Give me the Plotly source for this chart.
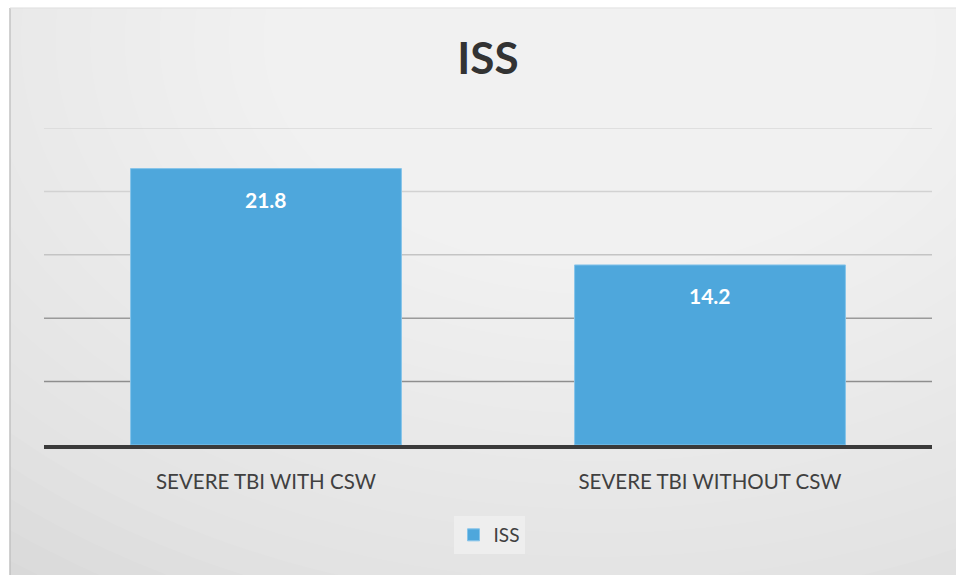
import plotly.graph_objects as go

categories = ["SEVERE TBI WITH CSW", "SEVERE TBI WITHOUT CSW"]
iss_values = [21.8, 14.2]
value_labels = ["21.8", "14.2"]
grid_values = [5, 10, 15, 20, 25]
grid_colors = ["#8e8e8e", "#9a9a9a", "#c4c4c4", "#d2d2d2", "#d8d8d8"]

W, H = 956, 575
L, R, T, B = 44, 24, 128, 130
pw, ph = W - L - R, H - T - B

def px_x(px):
    return (px - L) / pw

def px_y(py):
    return (H - B - py) / ph

fig = go.Figure()
fig.add_trace(go.Bar(
    x=categories, y=iss_values, name="ISS",
    marker=dict(color="#4ea7dc", line=dict(color="#86c4ea", width=1)),
    width=0.61,
))

for c, v, t in zip(categories, iss_values, value_labels):
    fig.add_annotation(x=c, y=v, text=f"<b>{t}</b>", showarrow=False,
                       yanchor="middle", yshift=-31,
                       font=dict(family="Lato", size=21, color="white"))

shapes = []
# background panel
shapes.append(dict(type="rect", xref="paper", yref="paper", layer="below",
                   x0=px_x(10), x1=px_x(960), y0=px_y(580), y1=px_y(8),
                   fillcolor="#d9d9d9", line=dict(color="#c8c8c8", width=1)))
# soft radial highlight
cx, cy = 600, 40
n = 26
for i in range(n):
    f = 1 - i / n
    rx, ry = 60 + 900 * f, 40 + 620 * f
    shapes.append(dict(type="circle", xref="paper", yref="paper", layer="below",
                       x0=px_x(cx - rx), x1=px_x(cx + rx),
                       y0=px_y(cy + ry), y1=px_y(cy - ry),
                       fillcolor="white", opacity=0.065, line=dict(width=0)))
# restore white margin outside panel
shapes.append(dict(type="rect", xref="paper", yref="paper", layer="below",
                   x0=px_x(-5), x1=px_x(9.5), y0=px_y(580), y1=px_y(-5),
                   fillcolor="white", line=dict(width=0)))
shapes.append(dict(type="rect", xref="paper", yref="paper", layer="below",
                   x0=px_x(-5), x1=px_x(960), y0=px_y(7.5), y1=px_y(-5),
                   fillcolor="white", line=dict(width=0)))
shapes.append(dict(type="line", xref="paper", yref="paper", layer="below",
                   x0=px_x(10), x1=px_x(10), y0=px_y(8), y1=px_y(580),
                   line=dict(color="#c4c4c4", width=1.5)))
shapes.append(dict(type="line", xref="paper", yref="paper", layer="below",
                   x0=px_x(10), x1=px_x(960), y0=px_y(8), y1=px_y(8),
                   line=dict(color="#e4e4e4", width=1)))
for gv, gc in zip(grid_values, grid_colors):
    shapes.append(dict(type="line", xref="paper", yref="y", layer="below",
                       x0=0, x1=1, y0=gv, y1=gv, line=dict(color=gc, width=1.5)))

fig.update_layout(
    width=W, height=H,
    margin=dict(l=L, r=R, t=T, b=B, pad=0),
    paper_bgcolor="white", plot_bgcolor="rgba(0,0,0,0)",
    shapes=shapes,
    title=dict(text="<b>ISS</b>", x=488 / W, xref="container", xanchor="center",
               y=1 - 59 / H, yref="container", yanchor="middle",
               font=dict(family="Lato", size=44, color="#333333")),
    xaxis=dict(showline=True, linecolor="#3a3a3a", linewidth=4, showgrid=False,
               ticks="", tickfont=dict(family="Lato", size=20.5, color="#404040"),
               ticklabelstandoff=15),
    yaxis=dict(range=[0, 25], showgrid=False, showticklabels=False, zeroline=False,
               showline=False),
    showlegend=True,
    legend=dict(orientation="h", x=px_x(489), xanchor="center", y=px_y(535), yanchor="middle",
                bgcolor="rgba(240,240,240,0.8)", font=dict(family="Lato", size=19, color="#404040"),
                itemwidth=30),
    bargap=0.39,
)

fig.write_html("out.html", config={"displayModeBar": False},
               post_script="document.body.style.margin='0';document.body.style.overflow='hidden';")
